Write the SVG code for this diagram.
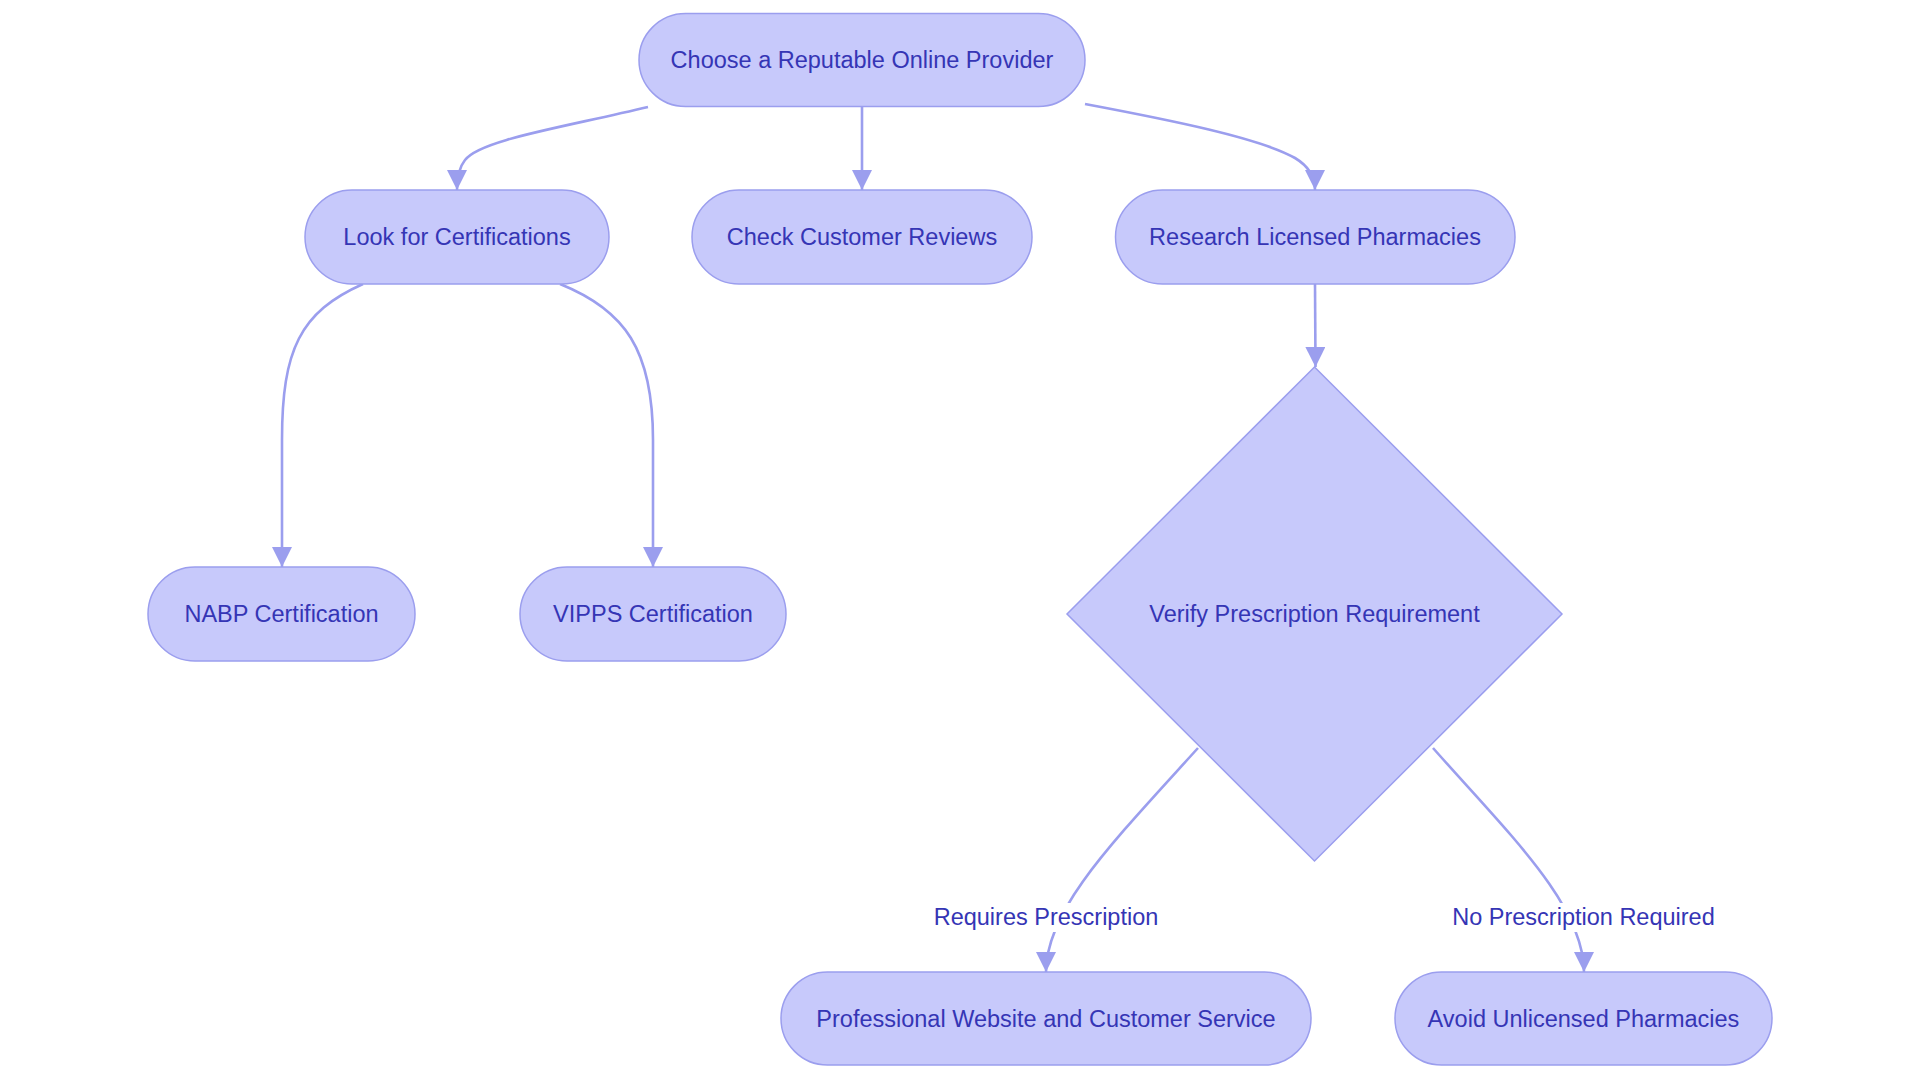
<svg xmlns="http://www.w3.org/2000/svg" width="1920" height="1083" viewBox="0 0 1920 1083">
<style>
.node{fill:#c7c9fb;stroke:#9b9eee;stroke-width:1.5}
.lbl{font-family:"Liberation Sans",Arial,sans-serif;font-size:23.5px;fill:#3535b5;text-anchor:middle}
.edge{fill:none;stroke:#9b9eee;stroke-width:2.6}
.elbg{fill:#ffffff}
</style>
<defs>
<marker id="arr" viewBox="0 0 20 20" refX="20" refY="10" markerWidth="20" markerHeight="20" markerUnits="userSpaceOnUse" orient="auto">
<path d="M0,0 L20,10 L0,20 Z" fill="#9b9eee"/>
</marker>
</defs>
<rect width="1920" height="1083" fill="#ffffff"/>
<g id="connectors">
<path class="edge" d="M648,107 C560,128 480,140 465,160 Q457,170 457,190" marker-end="url(#arr)"/>
<path class="edge" d="M862,107 L862,190" marker-end="url(#arr)"/>
<path class="edge" d="M1085,104 C1170,120 1260,138 1295,158 Q1315,170 1315,190" marker-end="url(#arr)"/>
<path class="edge" d="M1315,284 L1315.5,367" marker-end="url(#arr)"/>
<path class="edge" d="M363,284 C300,312 282,350 282,440 L282,567" marker-end="url(#arr)"/>
<path class="edge" d="M560,284 C625,310 653,350 653,440 L653,567" marker-end="url(#arr)"/>
<path class="edge" d="M1198,748 C1110,845 1046,910 1046,972" marker-end="url(#arr)"/>
<path class="edge" d="M1433,748 C1510,835 1584,905 1584,972" marker-end="url(#arr)"/>
<g id="edge-label-1">
<rect class="elbg" x="931" y="903" width="230" height="29"/>
<text class="lbl" x="1046" y="925">Requires Prescription</text>
</g>
<g id="edge-label-2">
<rect class="elbg" x="1451" y="903" width="265" height="29"/>
<text class="lbl" x="1583.5" y="925">No Prescription Required</text>
</g>
</g>
<g id="node-choose">
<rect class="node" x="639" y="13.5" width="446" height="93" rx="46.5" ry="46.5"/>
<text class="lbl" x="862" y="68">Choose a Reputable Online Provider</text>
</g>
<g id="node-certifications">
<rect class="node" x="305" y="190" width="304" height="94" rx="47" ry="47"/>
<text class="lbl" x="457" y="245">Look for Certifications</text>
</g>
<g id="node-reviews">
<rect class="node" x="692" y="190" width="340" height="94" rx="47" ry="47"/>
<text class="lbl" x="862" y="245">Check Customer Reviews</text>
</g>
<g id="node-research">
<rect class="node" x="1115.5" y="190" width="399.5" height="94" rx="47" ry="47"/>
<text class="lbl" x="1315" y="245">Research Licensed Pharmacies</text>
</g>
<g id="node-nabp">
<rect class="node" x="148" y="567" width="267" height="94" rx="47" ry="47"/>
<text class="lbl" x="281.5" y="622">NABP Certification</text>
</g>
<g id="node-vipps">
<rect class="node" x="520" y="567" width="266" height="94" rx="47" ry="47"/>
<text class="lbl" x="653" y="622">VIPPS Certification</text>
</g>
<g id="node-verify">
<polygon class="node" points="1314.5,367 1562,614 1314.5,861 1067,614"/>
<text class="lbl" x="1314.5" y="622">Verify Prescription Requirement</text>
</g>
<g id="node-professional">
<rect class="node" x="781" y="972" width="530" height="93" rx="46.5" ry="46.5"/>
<text class="lbl" x="1046" y="1027">Professional Website and Customer Service</text>
</g>
<g id="node-avoid">
<rect class="node" x="1395" y="972" width="377" height="93" rx="46.5" ry="46.5"/>
<text class="lbl" x="1583.5" y="1027">Avoid Unlicensed Pharmacies</text>
</g>
</svg>
